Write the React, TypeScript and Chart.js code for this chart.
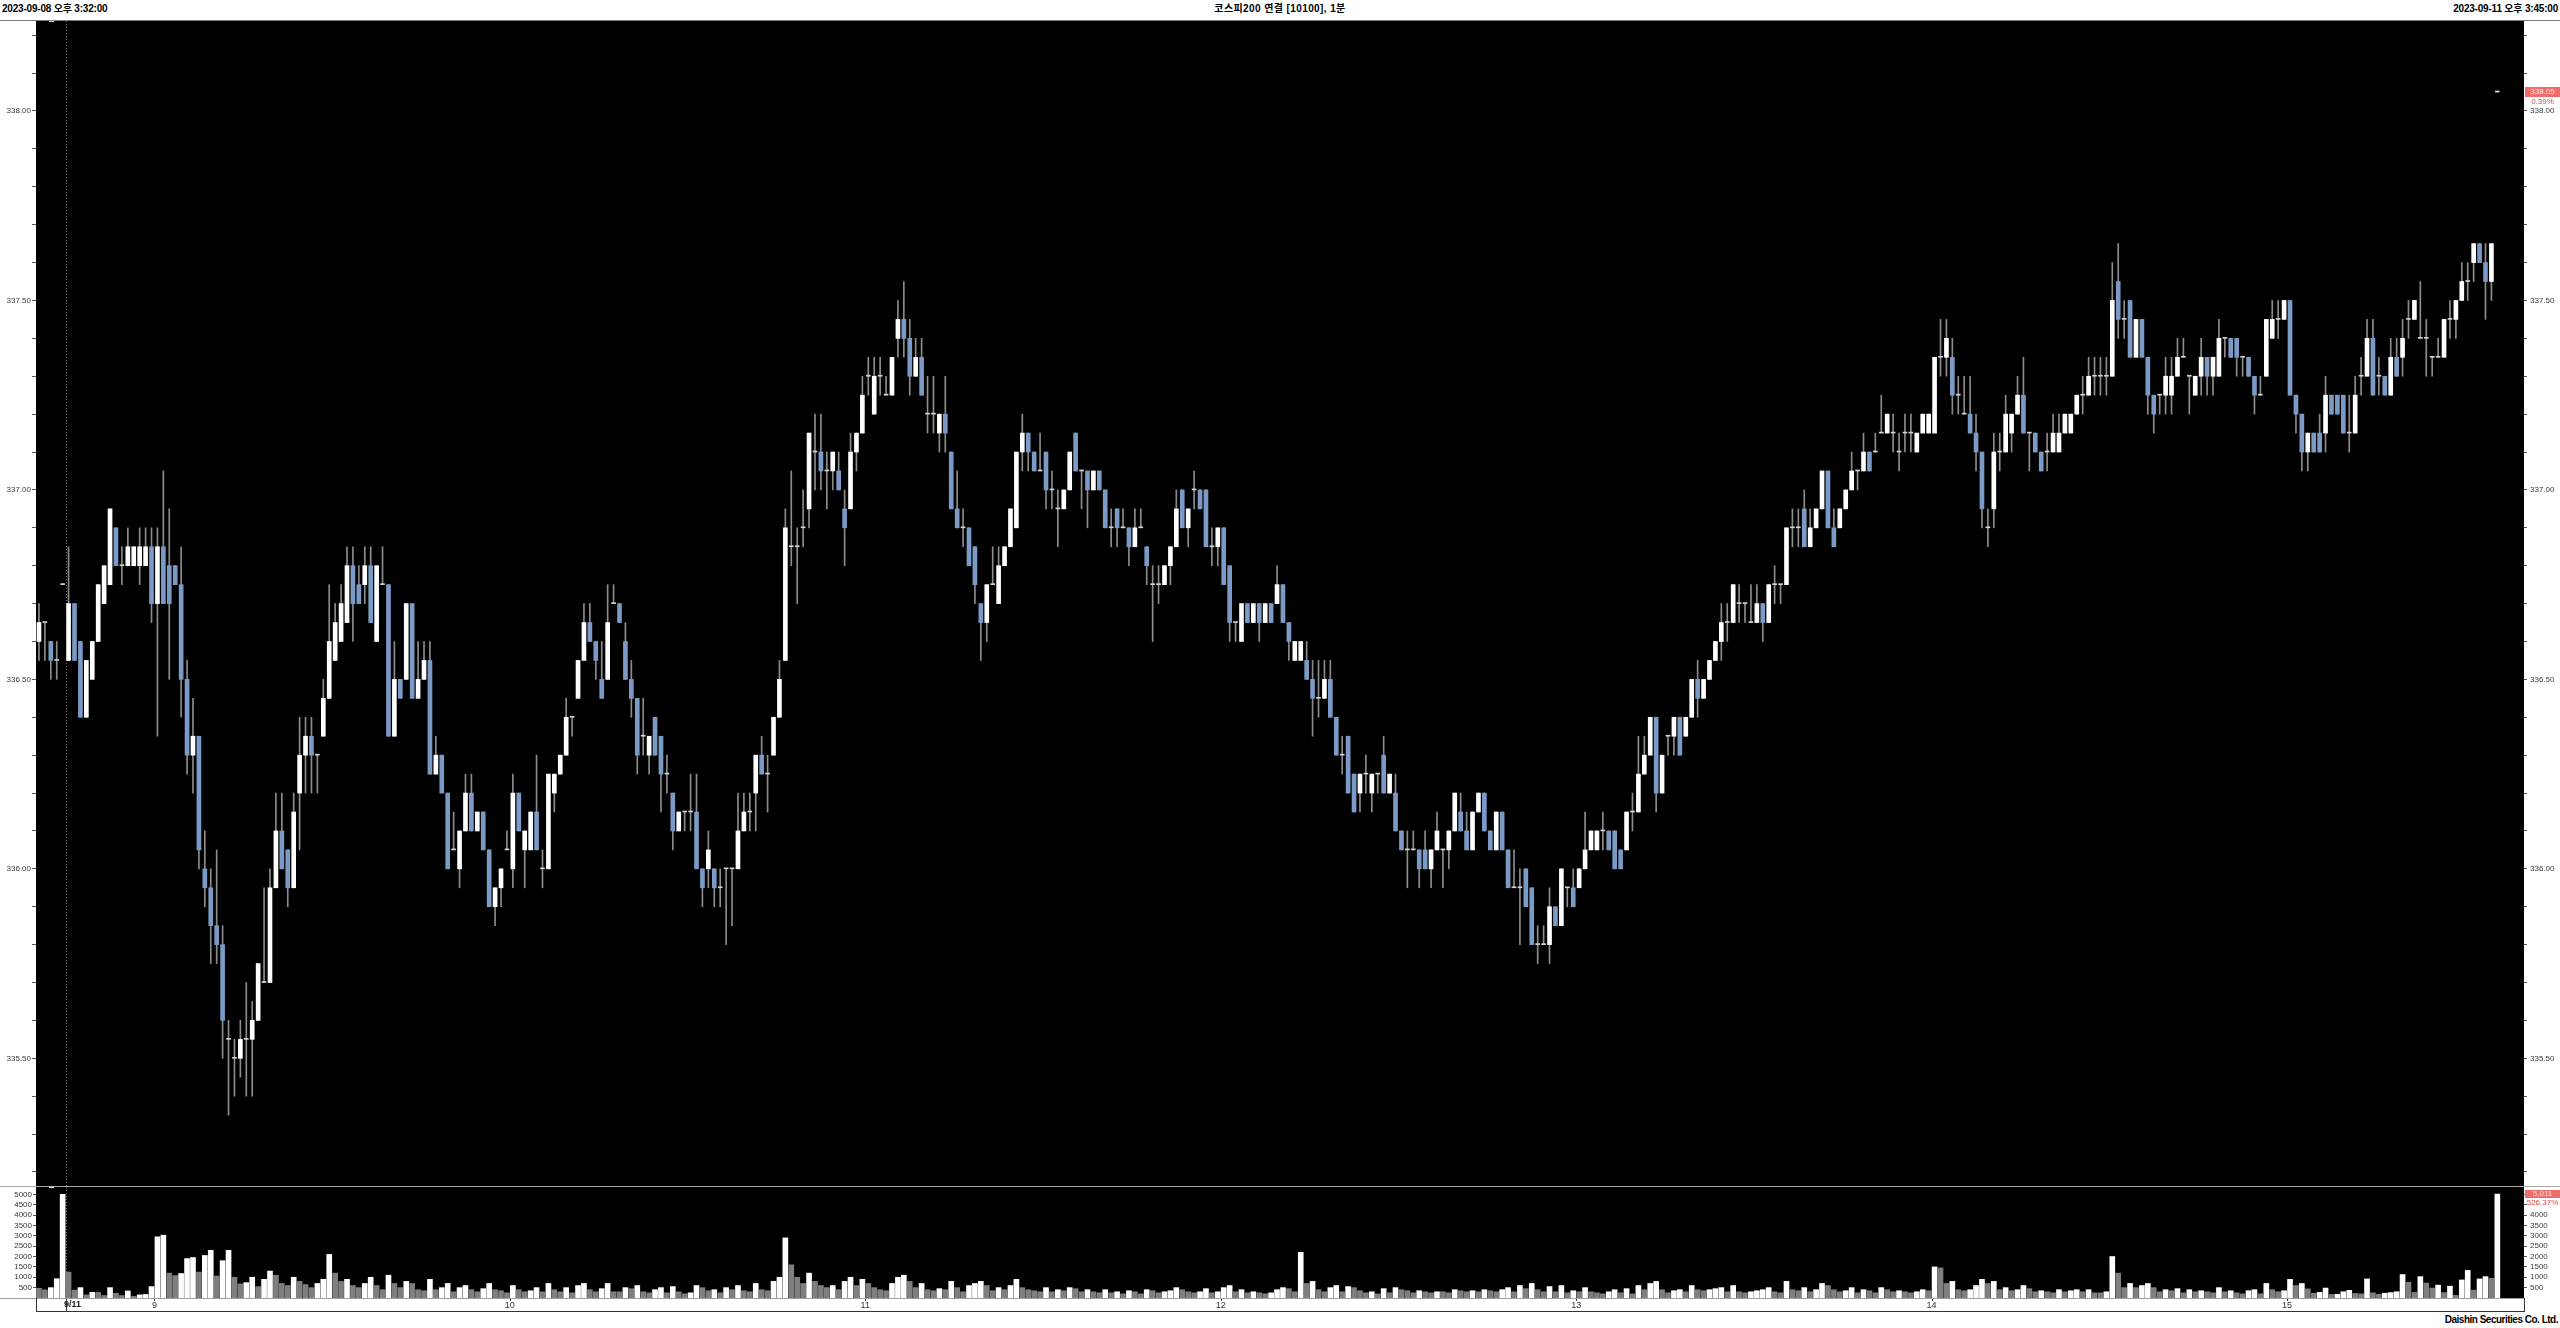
import React, { useEffect, useRef } from 'react';
import { Chart, registerables } from 'chart.js';

Chart.register(...registerables);

const FONT = '"Liberation Sans", "Noto Sans CJK KR", Arial, sans-serif';

// ---------- categories (1-minute bars) ----------
const prevSessionTimes = ['15:32', '15:33', '15:34', '15:35', '15:45']; // 2023-09-08
const sessionOpen = '8:45';
const sessionLastContinuous = '15:34';
const closingAuction = '15:45';
const dayLabel = '9/11';
const rightPadSlots = 4;
const markerIndex = 2; // small position marker drawn at the top of each panel

function minutesOf(t: string) {
  const [h, m] = t.split(':').map(Number);
  return h * 60 + m;
}
function buildSessionTimes() {
  const out: string[] = [];
  for (let m = minutesOf(sessionOpen); m <= minutesOf(sessionLastContinuous); m++) {
    out.push(`${Math.floor(m / 60)}:${String(m % 60).padStart(2, '0')}`);
  }
  out.push(closingAuction);
  return out;
}
const sessionTimes = buildSessionTimes();

// ---------- OHLC [open, high, low, close] ----------
const bars0908 = [
  [336.60,336.70,336.55,336.65],[336.65,336.65,336.55,336.65],[336.60,336.60,336.50,336.55],[336.55,336.60,336.50,336.55],[336.75,336.75,336.75,336.75],
];
const bars0845 = [
  [336.55,336.85,336.55,336.70],[336.70,336.70,336.55,336.55],[336.60,336.60,336.40,336.40],[336.40,336.55,336.40,336.55],[336.50,336.60,336.50,336.60],
  [336.60,336.75,336.60,336.75],[336.70,336.80,336.70,336.80],[336.75,336.95,336.75,336.95],[336.90,336.90,336.80,336.80],[336.80,336.85,336.75,336.80],
  [336.80,336.90,336.80,336.85],[336.80,336.85,336.80,336.85],[336.80,336.90,336.75,336.85],[336.80,336.90,336.80,336.85],[336.85,336.90,336.65,336.70],
];
const bars09 = [
  [336.70,336.90,336.35,336.85],[336.85,337.05,336.70,336.70],[336.80,336.95,336.50,336.70],[336.80,336.80,336.75,336.75],[336.75,336.85,336.40,336.50],
  [336.50,336.55,336.25,336.30],[336.30,336.45,336.20,336.35],[336.35,336.35,336.00,336.05],[336.00,336.10,335.90,335.95],[335.95,336.00,335.75,335.85],
  [335.85,336.05,335.75,335.80],[335.80,335.85,335.50,335.60],[335.55,335.60,335.35,335.55],[335.50,335.55,335.40,335.50],[335.50,335.60,335.45,335.55],
  [335.55,335.70,335.40,335.55],[335.55,335.65,335.40,335.60],[335.60,335.75,335.60,335.75],[335.70,335.95,335.70,335.70],[335.70,336.00,335.70,335.95],
  [335.95,336.20,335.95,336.10],[336.10,336.20,336.00,336.00],[336.05,336.05,335.90,335.95],[335.95,336.20,335.95,336.15],[336.20,336.40,336.05,336.30],
  [336.30,336.40,336.20,336.35],[336.35,336.40,336.20,336.30],[336.30,336.30,336.20,336.30],[336.35,336.50,336.35,336.45],[336.45,336.75,336.45,336.60],
  [336.55,336.70,336.55,336.65],[336.60,336.75,336.60,336.70],[336.65,336.85,336.65,336.80],[336.80,336.85,336.60,336.70],[336.75,336.80,336.70,336.70],
  [336.75,336.85,336.70,336.80],[336.80,336.85,336.65,336.65],[336.60,336.80,336.60,336.80],[336.75,336.85,336.75,336.75],[336.75,336.75,336.35,336.35],
  [336.35,336.60,336.35,336.50],[336.50,336.50,336.45,336.45],[336.50,336.70,336.50,336.70],[336.70,336.70,336.45,336.45],[336.45,336.60,336.45,336.50],
  [336.50,336.60,336.50,336.55],[336.55,336.60,336.25,336.25],[336.25,336.35,336.25,336.30],[336.30,336.30,336.20,336.20],[336.20,336.20,336.00,336.00],
  [336.05,336.15,336.05,336.05],[336.00,336.10,335.95,336.10],[336.10,336.25,336.10,336.20],[336.20,336.25,336.10,336.10],[336.10,336.15,336.10,336.15],
  [336.15,336.15,336.05,336.05],[336.05,336.05,335.90,335.90],[335.90,335.95,335.85,335.95],[335.95,336.00,335.90,336.00],[336.05,336.10,336.05,336.05],
];
const bars10 = [
  [336.00,336.25,335.95,336.20],[336.20,336.20,336.10,336.10],[336.05,336.10,335.95,336.10],[336.05,336.15,336.05,336.15],[336.15,336.30,336.05,336.05],
  [336.00,336.05,335.95,336.00],[336.00,336.25,336.00,336.25],[336.20,336.25,336.15,336.25],[336.25,336.30,336.25,336.30],[336.30,336.45,336.30,336.40],
  [336.40,336.40,336.35,336.40],[336.45,336.55,336.45,336.55],[336.55,336.70,336.55,336.65],[336.65,336.70,336.60,336.60],[336.60,336.60,336.50,336.55],
  [336.50,336.60,336.45,336.45],[336.50,336.75,336.50,336.65],[336.70,336.75,336.70,336.70],[336.70,336.70,336.65,336.65],[336.60,336.65,336.50,336.50],
  [336.50,336.55,336.40,336.45],[336.45,336.45,336.25,336.30],[336.35,336.45,336.30,336.35],[336.30,336.35,336.25,336.35],[336.40,336.40,336.30,336.30],
  [336.35,336.35,336.15,336.25],[336.25,336.30,336.20,336.25],[336.20,336.20,336.05,336.10],[336.10,336.15,336.10,336.15],[336.15,336.15,336.10,336.15],
  [336.15,336.25,336.10,336.15],[336.15,336.25,336.00,336.00],[336.00,336.00,335.90,335.95],[336.00,336.10,335.95,336.05],[336.00,336.00,335.90,335.95],
  [335.95,336.00,335.90,335.95],[336.00,336.00,335.80,336.00],[336.00,336.00,335.85,336.00],[336.00,336.20,336.00,336.10],[336.10,336.20,336.10,336.15],
  [336.15,336.20,336.10,336.15],[336.20,336.30,336.10,336.30],[336.30,336.35,336.25,336.25],[336.25,336.30,336.15,336.25],[336.30,336.40,336.30,336.40],
  [336.40,336.55,336.40,336.50],[336.55,336.95,336.55,336.90],[336.85,337.05,336.80,336.85],[336.85,336.90,336.70,336.85],[336.90,337.00,336.85,336.90],
  [336.95,337.15,336.90,337.15],[337.10,337.20,337.00,337.10],[337.10,337.20,337.00,337.05],[337.05,337.10,336.95,337.05],[337.05,337.10,337.00,337.10],
  [337.05,337.10,337.00,337.00],[336.95,337.00,336.80,336.90],[336.95,337.15,336.95,337.10],[337.10,337.15,337.05,337.15],[337.15,337.30,337.15,337.25],
];
const bars11 = [
  [337.30,337.35,337.25,337.30],[337.20,337.35,337.20,337.30],[337.30,337.35,337.25,337.30],[337.25,337.30,337.25,337.25],[337.25,337.35,337.25,337.35],
  [337.40,337.50,337.35,337.45],[337.45,337.55,337.35,337.40],[337.40,337.45,337.25,337.30],[337.30,337.40,337.30,337.35],[337.35,337.40,337.25,337.25],
  [337.20,337.30,337.15,337.20],[337.20,337.30,337.15,337.20],[337.15,337.20,337.10,337.20],[337.20,337.30,337.10,337.15],[337.10,337.10,336.95,336.95],
  [336.95,337.05,336.90,336.90],[336.90,336.95,336.85,336.90],[336.90,336.90,336.80,336.80],[336.85,336.85,336.70,336.75],[336.70,336.70,336.55,336.65],
  [336.65,336.75,336.60,336.75],[336.75,336.85,336.75,336.75],[336.70,336.85,336.70,336.80],[336.80,336.85,336.80,336.85],[336.85,336.95,336.85,336.95],
  [336.90,337.10,336.90,337.10],[337.10,337.20,337.05,337.15],[337.15,337.15,337.05,337.10],[337.10,337.10,337.05,337.05],[337.05,337.15,337.05,337.05],
  [337.10,337.10,336.95,337.00],[337.00,337.05,336.95,337.00],[336.95,337.00,336.85,336.95],[336.95,337.00,336.95,337.00],[337.00,337.10,337.00,337.10],
  [337.15,337.15,337.05,337.05],[337.05,337.05,336.95,337.05],[337.05,337.05,336.90,337.00],[337.00,337.05,337.00,337.05],[337.05,337.05,337.00,337.00],
  [337.00,337.00,336.90,336.90],[336.90,336.95,336.85,336.90],[336.95,336.95,336.85,336.90],[336.90,336.95,336.90,336.90],[336.90,336.90,336.80,336.85],
  [336.85,336.95,336.85,336.90],[336.90,336.95,336.90,336.90],[336.85,336.85,336.75,336.80],[336.75,336.80,336.60,336.75],[336.75,336.80,336.70,336.75],
  [336.75,336.80,336.75,336.80],[336.80,336.85,336.75,336.85],[336.85,337.00,336.85,336.95],[337.00,337.00,336.90,336.90],[336.90,336.95,336.85,336.95],
  [337.00,337.05,336.95,337.00],[337.00,337.00,336.95,336.95],[337.00,337.00,336.85,336.85],[336.85,336.90,336.80,336.85],[336.85,336.90,336.80,336.90],
];
const bars12 = [
  [336.90,336.90,336.75,336.75],[336.80,336.80,336.60,336.65],[336.65,336.65,336.60,336.65],[336.60,336.70,336.60,336.70],[336.70,336.70,336.65,336.65],
  [336.65,336.70,336.65,336.70],[336.70,336.70,336.60,336.65],[336.65,336.70,336.65,336.70],[336.70,336.70,336.65,336.65],[336.70,336.80,336.70,336.75],
  [336.75,336.75,336.65,336.65],[336.65,336.65,336.55,336.60],[336.55,336.60,336.55,336.60],[336.55,336.60,336.55,336.60],[336.55,336.60,336.50,336.50],
  [336.50,336.55,336.35,336.45],[336.45,336.55,336.40,336.45],[336.45,336.55,336.45,336.50],[336.50,336.55,336.40,336.40],[336.40,336.40,336.30,336.30],
  [336.30,336.35,336.25,336.30],[336.35,336.35,336.20,336.20],[336.25,336.25,336.15,336.15],[336.20,336.25,336.15,336.25],[336.25,336.30,336.20,336.25],
  [336.20,336.25,336.15,336.25],[336.25,336.25,336.20,336.25],[336.30,336.35,336.20,336.20],[336.20,336.25,336.20,336.25],[336.20,336.25,336.10,336.10],
  [336.10,336.10,336.05,336.05],[336.05,336.10,335.95,336.05],[336.05,336.10,336.05,336.05],[336.05,336.05,335.95,336.00],[336.05,336.10,336.00,336.00],
  [336.00,336.05,335.95,336.05],[336.05,336.15,336.05,336.10],[336.05,336.05,335.95,336.05],[336.05,336.10,336.00,336.10],[336.10,336.20,336.10,336.20],
  [336.15,336.20,336.10,336.10],[336.10,336.15,336.05,336.05],[336.05,336.15,336.05,336.15],[336.15,336.20,336.15,336.20],[336.20,336.20,336.10,336.10],
  [336.10,336.10,336.05,336.05],[336.05,336.15,336.05,336.15],[336.15,336.15,336.05,336.05],[336.05,336.05,335.95,335.95],[335.95,336.05,335.95,335.95],
  [335.95,336.00,335.80,335.95],[336.00,336.00,335.90,335.90],[335.95,335.95,335.80,335.80],[335.80,335.85,335.75,335.80],[335.80,335.85,335.80,335.80],
  [335.80,335.95,335.75,335.90],[335.90,335.90,335.85,335.85],[335.85,336.00,335.85,336.00],[335.95,335.95,335.90,335.95],[335.95,336.00,335.90,335.90],
];
const bars13 = [
  [335.95,336.00,335.95,336.00],[336.00,336.15,336.00,336.05],[336.05,336.10,336.05,336.10],[336.05,336.10,336.05,336.10],[336.10,336.15,336.05,336.10],
  [336.10,336.10,336.05,336.05],[336.10,336.10,336.00,336.00],[336.05,336.05,336.00,336.00],[336.05,336.15,336.05,336.15],[336.15,336.20,336.10,336.15],
  [336.15,336.35,336.15,336.25],[336.25,336.35,336.25,336.30],[336.30,336.40,336.30,336.40],[336.40,336.40,336.15,336.20],[336.20,336.30,336.20,336.30],
  [336.35,336.35,336.30,336.35],[336.35,336.40,336.30,336.40],[336.40,336.40,336.30,336.30],[336.35,336.40,336.35,336.40],[336.40,336.50,336.40,336.50],
  [336.50,336.55,336.40,336.45],[336.45,336.50,336.45,336.50],[336.50,336.55,336.50,336.55],[336.55,336.60,336.55,336.60],[336.60,336.70,336.55,336.65],
  [336.65,336.70,336.60,336.65],[336.65,336.75,336.65,336.75],[336.70,336.75,336.65,336.70],[336.70,336.70,336.65,336.70],[336.65,336.75,336.65,336.65],
  [336.65,336.75,336.65,336.70],[336.70,336.70,336.60,336.65],[336.65,336.75,336.65,336.75],[336.75,336.80,336.70,336.75],[336.75,336.75,336.70,336.75],
  [336.75,336.90,336.75,336.90],[336.90,336.95,336.85,336.90],[336.90,336.95,336.85,336.90],[336.95,337.00,336.85,336.85],[336.85,336.95,336.85,336.90],
  [336.90,336.95,336.90,336.95],[336.95,337.05,336.95,337.05],[337.05,337.05,336.90,336.90],[336.90,336.95,336.85,336.85],[336.90,336.95,336.90,336.95],
  [336.95,337.00,336.95,337.00],[337.00,337.10,337.00,337.05],[337.05,337.05,337.00,337.05],[337.05,337.15,337.05,337.10],[337.10,337.10,337.05,337.05],
  [337.10,337.15,337.10,337.10],[337.15,337.25,337.15,337.15],[337.15,337.20,337.15,337.20],[337.15,337.20,337.10,337.15],[337.10,337.15,337.05,337.10],
  [337.15,337.20,337.10,337.15],[337.15,337.20,337.10,337.15],[337.10,337.15,337.10,337.15],[337.15,337.20,337.15,337.20],[337.15,337.20,337.15,337.20],
];
const bars14 = [
  [337.15,337.35,337.15,337.35],[337.35,337.45,337.30,337.35],[337.35,337.45,337.30,337.40],[337.35,337.40,337.20,337.25],[337.25,337.30,337.20,337.25],
  [337.20,337.30,337.20,337.20],[337.20,337.30,337.15,337.15],[337.15,337.20,337.05,337.10],[337.10,337.10,336.90,336.95],[336.90,336.95,336.85,336.90],
  [336.95,337.15,336.90,337.10],[337.10,337.15,337.05,337.10],[337.10,337.25,337.10,337.20],[337.15,337.20,337.10,337.20],[337.20,337.30,337.20,337.25],
  [337.25,337.35,337.15,337.15],[337.15,337.15,337.05,337.15],[337.15,337.15,337.10,337.10],[337.10,337.10,337.05,337.05],[337.10,337.15,337.05,337.10],
  [337.10,337.20,337.10,337.15],[337.10,337.20,337.10,337.15],[337.15,337.20,337.15,337.20],[337.15,337.20,337.15,337.20],[337.20,337.25,337.20,337.25],
  [337.25,337.30,337.20,337.25],[337.25,337.35,337.25,337.30],[337.30,337.35,337.25,337.30],[337.30,337.35,337.25,337.30],[337.30,337.35,337.25,337.30],
  [337.30,337.60,337.30,337.50],[337.55,337.65,337.40,337.45],[337.45,337.50,337.40,337.45],[337.50,337.50,337.35,337.35],[337.35,337.45,337.35,337.45],
  [337.45,337.45,337.35,337.35],[337.35,337.35,337.20,337.25],[337.25,337.25,337.15,337.20],[337.25,337.25,337.20,337.25],[337.25,337.35,337.20,337.30],
  [337.25,337.35,337.20,337.30],[337.30,337.40,337.30,337.35],[337.35,337.40,337.35,337.35],[337.30,337.30,337.20,337.30],[337.25,337.30,337.25,337.30],
  [337.30,337.40,337.25,337.35],[337.35,337.35,337.25,337.30],[337.30,337.35,337.25,337.35],[337.30,337.45,337.30,337.40],[337.40,337.40,337.35,337.40],
  [337.40,337.40,337.35,337.35],[337.40,337.40,337.30,337.35],[337.35,337.35,337.30,337.35],[337.35,337.35,337.30,337.30],[337.30,337.30,337.20,337.25],
  [337.25,337.30,337.25,337.25],[337.30,337.45,337.30,337.45],[337.40,337.50,337.40,337.45],[337.45,337.50,337.40,337.45],[337.45,337.50,337.45,337.50],
];
const bars15 = [
  [337.50,337.50,337.25,337.25],[337.25,337.25,337.15,337.20],[337.20,337.20,337.05,337.10],[337.10,337.15,337.05,337.15],[337.15,337.15,337.10,337.10],
  [337.15,337.20,337.10,337.10],[337.15,337.30,337.10,337.25],[337.25,337.25,337.20,337.20],[337.25,337.25,337.20,337.20],[337.25,337.25,337.15,337.15],
  [337.15,337.25,337.10,337.15],[337.15,337.30,337.15,337.25],[337.30,337.35,337.25,337.30],[337.30,337.45,337.30,337.40],[337.40,337.45,337.25,337.25],
  [337.30,337.35,337.25,337.30],[337.30,337.30,337.25,337.25],[337.25,337.40,337.25,337.35],[337.35,337.40,337.30,337.30],[337.35,337.45,337.30,337.40],
  [337.45,337.50,337.40,337.45],[337.45,337.50,337.45,337.50],[337.40,337.55,337.40,337.40],[337.40,337.45,337.30,337.40],[337.35,337.35,337.30,337.35],
  [337.35,337.40,337.35,337.35],[337.35,337.45,337.35,337.45],[337.45,337.50,337.40,337.45],[337.45,337.50,337.40,337.50],[337.50,337.60,337.50,337.55],
  [337.55,337.60,337.50,337.55],[337.60,337.65,337.55,337.65],[337.65,337.65,337.60,337.60],[337.60,337.65,337.45,337.55],[337.55,337.65,337.50,337.65],
  [338.05,338.05,338.05,338.05],
];

// ---------- volume (contracts) ----------
const vol0908 = [470, 390, 500, 930, 5000];
const vol0845 = [1250, 380, 500, 150, 270, 270, 120, 500, 230, 120, 340, 80, 150, 170, 550];
const vol09 = [
  2950, 3030, 1200, 1080, 1180, 1900, 1950, 1250, 2050, 2300, 1060, 1800, 2300, 1000, 680, 740, 1000, 550,
  900, 1300, 1100, 700, 600, 1000, 800, 650, 500, 700,
  900, 2100, 1200, 800, 900, 600, 500, 700, 1000, 600,
  400, 1100, 700, 500, 800, 700, 400, 350, 900, 400,
  500, 700, 300, 500, 600, 400, 300, 450, 700, 400,
  350, 250,
];
const vol10 = [
  600, 400, 300, 350, 500, 300, 700, 400,
  300, 500, 250, 600, 700, 400, 300, 450, 700, 300,
  300, 500, 450, 600, 300, 250, 400, 500, 250, 550,
  300, 200, 250, 600, 500, 350, 400, 250, 500, 400,
  600, 350, 300, 700, 400, 350, 800, 1000, 2900, 1600,
  1000, 700, 1200, 800, 600, 500, 600, 400, 800, 1000,
  600, 900,
];
const vol11 = [
  700, 500, 400, 350, 700, 1000, 1100, 800,
  500, 700, 400, 350, 450, 400, 800, 500, 300, 600,
  700, 800, 600, 350, 500, 400, 600, 900, 500, 400,
  350, 300, 500, 300, 400, 350, 500, 450, 300, 400,
  300, 250, 400, 250, 300, 200, 350, 300, 200, 400,
  350, 250, 300, 350, 500, 400, 300, 250, 300, 450,
  250, 300,
];
const vol12 = [
  500, 600, 300, 400, 250, 300, 250, 200,
  250, 400, 500, 450, 300, 2200, 700, 800, 400, 300,
  500, 600, 300, 550, 500, 350, 250, 300, 200, 450,
  250, 500, 400, 350, 250, 350, 300, 250, 300, 300,
  250, 400, 350, 300, 350, 300, 400, 350, 300, 400,
  500, 300, 600, 450, 700, 400, 300, 550, 300, 600,
  250, 350,
];
const vol13 = [
  300, 500, 300, 250, 200, 300, 400, 250,
  450, 200, 600, 400, 700, 800, 400, 250, 350, 400,
  300, 600, 400, 350, 400, 450, 500, 300, 600, 300,
  250, 300, 350, 400, 500, 300, 250, 800, 400, 350,
  500, 300, 400, 700, 600, 400, 300, 350, 500, 250,
  400, 350, 250, 500, 400, 300, 350, 300, 250, 300,
  400, 350,
];
const vol14 = [
  1500, 1450, 700, 800, 400, 350, 400, 600,
  900, 700, 800, 400, 500, 350, 400, 600, 450, 300,
  350, 300, 250, 400, 300, 350, 400, 300, 400, 250,
  250, 300, 2000, 1200, 500, 700, 500, 600, 700, 500,
  300, 400, 350, 450, 250, 400, 300, 350, 300, 250,
  500, 300, 350, 250, 200, 350, 400, 200, 700, 400,
  300, 350,
];
const vol15 = [
  900, 600, 700, 440, 230, 270, 480, 170, 180, 300, 370, 220, 200, 920, 250, 180, 230, 260,
  300, 1130, 760, 270, 1030, 720, 480, 620, 260, 570, 130, 870, 1330, 380, 920, 1030, 952, 5011,
];

// ---------- axis tick labels ----------
const priceTickLabels = ['335.50', '336.00', '336.50', '337.00', '337.50', '338.00'];
const volumeTickLabels = ['500', '1000', '1500', '2000', '2500', '3000', '3500', '4000', '4500', '5000'];

const bars = [...bars0908, ...bars0845, ...bars09, ...bars10, ...bars11, ...bars12, ...bars13, ...bars14, ...bars15];
const volumes = [...vol0908, ...vol0845, ...vol09, ...vol10, ...vol11, ...vol12, ...vol13, ...vol14, ...vol15];
const categories = [...prevSessionTimes, ...sessionTimes, ...Array(rightPadSlots).fill('')];

const PRICE_MIN = 335.163;
const PRICE_MAX = 338.2375;
const VOL_MAX = 5353;

const UP = '#ffffff';
const DOWN = '#7b9bc6';
const FLAT = '#d4d4d4';
const WICK = '#8c8c8c';
const VOL_UP = '#ffffff';
const VOL_DOWN = '#7f7f7f';
const RED = '#f26b6b';

const dayIndex = prevSessionTimes.length;
function axisLabel(i: number): string {
  if (i === dayIndex) return dayLabel;
  const t = categories[i];
  if (i > dayIndex && t && t.endsWith(':00')) return t.split(':')[0];
  return '';
}

const minorPriceTicks: number[] = [];
for (let k = Math.ceil(PRICE_MIN * 10); k <= Math.floor(PRICE_MAX * 10); k++) minorPriceTicks.push(k / 10);

function priceAxis(position: 'left' | 'right') {
  return {
    type: 'linear',
    position,
    min: PRICE_MIN,
    max: PRICE_MAX,
    border: { display: false },
    grid: { drawOnChartArea: false, drawTicks: true, tickLength: position === 'left' ? 4 : 3, tickColor: '#555', color: '#555' },
    ticks: {
      autoSkip: false,
      color: '#3a3a3a',
      padding: position === 'left' ? 1 : 3,
      font: { size: 8, family: FONT },
      callback: (v: number) => {
        const s = Number(v).toFixed(2);
        return priceTickLabels.includes(s) ? s : '';
      },
    },
    afterBuildTicks: (scale: any) => {
      scale.ticks = minorPriceTicks.map((v) => ({ value: v }));
    },
    afterFit: (scale: any) => {
      scale.width = 36;
      scale.paddingTop = 0;
      scale.paddingBottom = 0;
    },
  };
}

function volumeAxis(position: 'left' | 'right') {
  return {
    type: 'linear',
    position,
    min: 0,
    max: VOL_MAX,
    border: { display: false },
    grid: { drawOnChartArea: false, drawTicks: true, tickLength: 3, tickColor: '#555', color: '#555' },
    ticks: {
      autoSkip: false,
      color: '#3a3a3a',
      padding: position === 'left' ? 1 : 3,
      font: { size: 8, family: FONT },
      callback: (v: number) => {
        const s = String(Math.round(v));
        if (position === 'right' && v > 4000) return '';
        return volumeTickLabels.includes(s) ? s : '';
      },
    },
    afterBuildTicks: (scale: any) => {
      scale.ticks = volumeTickLabels.map((s) => ({ value: Number(s) }));
    },
    afterFit: (scale: any) => {
      scale.width = 36;
      scale.paddingTop = 0;
      scale.paddingBottom = 0;
    },
  };
}

function dayBoundaryX(chart: any) {
  const xs = chart.scales.x;
  const step = xs.getPixelForValue(1) - xs.getPixelForValue(0);
  return { step, x: Math.round(xs.getPixelForValue(dayIndex) - step / 2) + 0.5 };
}

const panelBackground = {
  id: 'panelBackground',
  beforeDraw(chart: any) {
    const { ctx, chartArea: a } = chart;
    ctx.save();
    ctx.fillStyle = '#000';
    ctx.fillRect(a.left, a.top, a.right - a.left, a.bottom - a.top);
    ctx.restore();
  },
  beforeDatasetsDraw(chart: any) {
    const { ctx, chartArea: a } = chart;
    const { x } = dayBoundaryX(chart);
    ctx.save();
    ctx.strokeStyle = '#6e6e6e';
    ctx.lineWidth = 1;
    ctx.setLineDash([1, 2]);
    ctx.beginPath();
    ctx.moveTo(x, a.top);
    ctx.lineTo(x, a.bottom);
    ctx.stroke();
    ctx.setLineDash([]);
    // small position marker at top of the panel
    const mx = Math.round(chart.scales.x.getPixelForValue(markerIndex));
    ctx.fillStyle = '#e8e8e8';
    ctx.fillRect(mx - 2, a.top, 5, 1);
    ctx.restore();
  },
};

const priceBadge = {
  id: 'priceBadge',
  afterDraw(chart: any) {
    const { ctx, chartArea: a } = chart;
    const last = bars[bars.length - 1][3];
    const prevClose = bars[dayIndex - 1][3];
    const y = Math.round(chart.scales.y.getPixelForValue(last));
    const x0 = a.right + 1;
    const w = chart.width - x0;
    ctx.save();
    ctx.fillStyle = RED;
    ctx.fillRect(x0, y - 5, w, 10);
    ctx.font = `8px ${FONT}`;
    ctx.textAlign = 'center';
    ctx.textBaseline = 'middle';
    ctx.fillStyle = '#ffecec';
    ctx.fillText(last.toFixed(2), x0 + w / 2, y);
    ctx.fillStyle = '#e04848';
    ctx.fillText(`${((last / prevClose - 1) * 100).toFixed(2)}%`, x0 + w / 2, y + 10);
    ctx.restore();
  },
};

const volumeDecor = {
  id: 'volumeDecor',
  afterDraw(chart: any) {
    const { ctx, chartArea: a } = chart;
    const xs = chart.scales.x;
    const { step } = dayBoundaryX(chart);
    ctx.save();
    ctx.strokeStyle = '#333';
    ctx.lineWidth = 1;
    for (let i = 0; i < categories.length; i++) {
      const lab = axisLabel(i);
      if (!lab) continue;
      const x = Math.round(xs.getPixelForValue(i) - step / 2) + 0.5;
      ctx.beginPath();
      ctx.moveTo(x, a.bottom);
      ctx.lineTo(x, a.bottom + (i === dayIndex ? 13 : 3));
      ctx.stroke();
      if (i === dayIndex) {
        ctx.font = `bold 9px ${FONT}`;
        ctx.fillStyle = '#222';
        ctx.textAlign = 'left';
        ctx.textBaseline = 'middle';
        ctx.fillText(lab, x - 2.5, a.bottom + 7);
      }
    }
    const last = volumes[volumes.length - 1];
    const prev = volumes[volumes.length - 2];
    const y = Math.round(chart.scales.y.getPixelForValue(last));
    const x0 = a.right + 1;
    const w = chart.width - x0;
    ctx.fillStyle = RED;
    ctx.fillRect(x0, y - 4, w, 8);
    ctx.font = `8px ${FONT}`;
    ctx.textAlign = 'center';
    ctx.textBaseline = 'middle';
    ctx.fillStyle = '#ffecec';
    ctx.fillText(last.toLocaleString('en-US'), x0 + w / 2, y);
    ctx.fillStyle = '#e04848';
    ctx.fillText(`${((last / prev) * 100).toFixed(2)}%`, x0 + w / 2, y + 9);
    ctx.restore();
  },
};

export default function App() {
  const priceRef = useRef<HTMLCanvasElement>(null);
  const volRef = useRef<HTMLCanvasElement>(null);

  useEffect(() => {
    const bodyColors = bars.map((b) => (b[3] > b[0] ? UP : b[3] < b[0] ? DOWN : FLAT));
    const priceChart = new Chart(priceRef.current as HTMLCanvasElement, {
      type: 'bar',
      data: {
        labels: categories,
        datasets: [
          {
            label: 'wick',
            data: bars.map((b) => [b[2], b[1]]),
            backgroundColor: WICK,
            barThickness: 1,
            grouped: false,
            order: 2,
            minBarLength: 1,
            yAxisID: 'y',
          },
          {
            label: 'body',
            data: bars.map((b) => [Math.min(b[0], b[3]), Math.max(b[0], b[3])]),
            backgroundColor: bodyColors,
            barThickness: 4,
            grouped: false,
            order: 1,
            minBarLength: 1,
            yAxisID: 'y',
          },
        ],
      } as any,
      options: {
        responsive: false,
        animation: false,
        devicePixelRatio: 1,
        layout: { padding: 0 },
        events: [],
        plugins: { legend: { display: false }, tooltip: { enabled: false }, title: { display: false } },
        scales: {
          x: { type: 'category', display: false, offset: true },
          y: priceAxis('left'),
          yR: priceAxis('right'),
        } as any,
      },
      plugins: [panelBackground, priceBadge],
    });

    const volColors = volumes.map((v, i) => (i > 0 && v > volumes[i - 1] ? VOL_UP : VOL_DOWN));
    const volChart = new Chart(volRef.current as HTMLCanvasElement, {
      type: 'bar',
      data: {
        labels: categories,
        datasets: [
          {
            label: 'volume',
            data: volumes,
            backgroundColor: volColors,
            barThickness: 5,
            yAxisID: 'y',
          },
        ],
      } as any,
      options: {
        responsive: false,
        animation: false,
        devicePixelRatio: 1,
        layout: { padding: 0 },
        events: [],
        plugins: { legend: { display: false }, tooltip: { enabled: false }, title: { display: false } },
        scales: {
          x: {
            type: 'category',
            offset: true,
            border: { display: false },
            grid: { display: false, drawTicks: false },
            ticks: {
              autoSkip: false,
              maxRotation: 0,
              minRotation: 0,
              padding: 2,
              labelOffset: -3,
              color: '#333',
              font: { size: 9, family: FONT },
              callback: (v: number) => (v === dayIndex ? '' : axisLabel(v)),
            },
            afterBuildTicks: (scale: any) => {
              scale.ticks = scale.ticks.filter((t: any) => axisLabel(t.value) !== '');
            },
            afterFit: (scale: any) => {
              scale.height = 13;
              scale.paddingLeft = 0;
              scale.paddingRight = 0;
            },
          },
          y: volumeAxis('left'),
          yR: volumeAxis('right'),
        } as any,
      },
      plugins: [panelBackground, volumeDecor],
    });

    return () => {
      priceChart.destroy();
      volChart.destroy();
    };
  }, []);

  const headText = {
    position: 'absolute' as const,
    top: 3,
    fontSize: 10,
    fontWeight: 'bold' as const,
    lineHeight: '12px',
    color: '#000',
    whiteSpace: 'nowrap' as const,
  };

  return (
    <div
      style={{
        position: 'fixed',
        left: 0,
        top: 0,
        width: 2560,
        height: 1328,
        background: '#fff',
        fontFamily: FONT,
        overflow: 'hidden',
      }}
    >
      <div style={{ ...headText, left: 2, letterSpacing: '-0.2px' }}>2023-09-08 오후 3:32:00</div>
      <div style={{ ...headText, left: 0, width: 2560, textAlign: 'center', letterSpacing: '0.4px' }}>
        코스피200 연결 [10100], 1분
      </div>
      <div style={{ ...headText, right: 2, letterSpacing: '-0.2px' }}>2023-09-11 오후 3:45:00</div>
      <div style={{ position: 'absolute', left: 0, top: 20, width: 2560, height: 1, background: '#7a7a7a' }} />
      <canvas
        ref={priceRef}
        width={2560}
        height={1165}
        style={{ position: 'absolute', left: 0, top: 21, width: 2560, height: 1165 }}
      />
      <div style={{ position: 'absolute', left: 0, top: 1186, width: 2560, height: 1, background: '#a8a8a8' }} />
      <canvas
        ref={volRef}
        width={2560}
        height={124}
        style={{ position: 'absolute', left: 0, top: 1187, width: 2560, height: 124 }}
      />
      <div style={{ position: 'absolute', left: 0, top: 1298, width: 2524, height: 1, background: '#a0a0a0' }} />
      <div
        style={{
          position: 'absolute',
          left: 36,
          top: 1298,
          width: 2489,
          height: 14,
          boxSizing: 'border-box',
          borderLeft: '1px solid #333',
          borderRight: '1px solid #333',
          borderBottom: '1px solid #333',
        }}
      />
      <div
        style={{
          position: 'absolute',
          right: 2,
          top: 1314,
          fontSize: 10,
          fontWeight: 'bold',
          lineHeight: '12px',
          letterSpacing: '-0.5px',
          color: '#000',
          whiteSpace: 'nowrap',
        }}
      >
        Daishin Securities Co. Ltd.
      </div>
    </div>
  );
}
